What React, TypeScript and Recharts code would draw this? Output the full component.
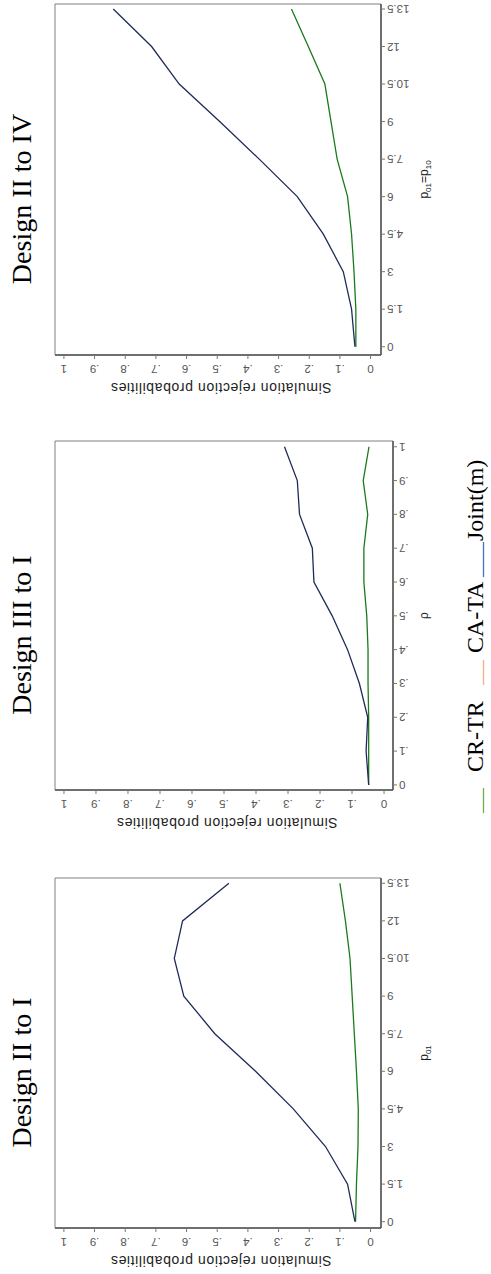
import React from "react";
import { LineChart, Line, XAxis, YAxis, ReferenceArea, Label } from "recharts";

// x levels and tick values
const p01Levels = [0, 1.5, 3, 4.5, 6, 7.5, 9, 10.5, 12, 13.5];
const rhoLevels = [0, 0.1, 0.2, 0.3, 0.4, 0.5, 0.6, 0.7, 0.8, 0.9, 1];
const probTicks = [0, 0.1, 0.2, 0.3, 0.4, 0.5, 0.6, 0.7, 0.8, 0.9, 1];

// Design II to I
const d1CrTr = [0.049, 0.046, 0.041, 0.04, 0.046, 0.053, 0.06, 0.067, 0.082, 0.1];
const d1Joint = [0.051, 0.075, 0.147, 0.252, 0.375, 0.508, 0.609, 0.64, 0.613, 0.462];

// Design III to I
const d2CrTr = [0.048, 0.048, 0.048, 0.05, 0.05, 0.054, 0.063, 0.063, 0.051, 0.065, 0.047];
const d2Joint = [0.048, 0.056, 0.051, 0.077, 0.114, 0.162, 0.219, 0.224, 0.264, 0.271, 0.311];

// Design II to IV
const d3CrTr = [0.048, 0.048, 0.054, 0.062, 0.075, 0.109, 0.129, 0.149, 0.203, 0.258];
const d3Joint = [0.051, 0.062, 0.089, 0.154, 0.239, 0.363, 0.492, 0.624, 0.714, 0.839];

const legendItems = [
  { name: "CR-TR", color: "#70AD47" },
  { name: "CA-TA", color: "#F4B183" },
  { name: "Joint(m)", color: "#4472C4" },
];

const NAVY = "#1f2b59";
const GREEN = "#1b7a1b";
const TICK_GRAY = "#555";
const SANS = "'Liberation Sans', Arial, sans-serif";
const SERIF = "'Liberation Serif', 'Times New Roman', serif";

// the page is drawn landscape, then turned a quarter to fit the portrait window
const W = 1274;
const H = 491;
const AXIS_W = 40;
const AXIS_H = 40;

function rows(xs: number[], crtr: number[], joint: number[]) {
  return xs.map((x, i) => ({ x, crtr: crtr[i], joint: joint[i] }));
}

const decimalLabel = (v: number) =>
  v === 0 ? "0" : v === 1 ? "1" : "." + Math.round(v * 10);

function XTick({ x, y, payload, fmt }: any) {
  return (
    <text
      transform={`translate(${x + 4},${y}) rotate(-90)`}
      textAnchor="end"
      fontSize={11.5}
      fontFamily={SANS}
      fill={TICK_GRAY}
    >
      {fmt(payload.value)}
    </text>
  );
}

function YTick({ x, y, payload }: any) {
  return (
    <text
      transform={`translate(${x},${y}) rotate(-90)`}
      textAnchor="middle"
      fontSize={11.5}
      fontFamily={SANS}
      fill={TICK_GRAY}
    >
      {decimalLabel(payload.value)}
    </text>
  );
}

function XTitle({ kind }: { kind: string }) {
  if (kind === "rho") return <tspan>ρ</tspan>;
  const sub = (t: string) => (
    <tspan fontSize={8} dy={3}>
      {t}
    </tspan>
  );
  if (kind === "p01") {
    return (
      <>
        <tspan>p</tspan>
        {sub("01")}
      </>
    );
  }
  return (
    <>
      <tspan>p</tspan>
      {sub("01")}
      <tspan dy={-3}>=p</tspan>
      {sub("10")}
    </>
  );
}

const panels = [
  {
    title: "Design II to I",
    data: rows(p01Levels, d1CrTr, d1Joint),
    xTicks: p01Levels,
    xFmt: (v: number) => String(v),
    xDomain: [-0.25, 13.71],
    yDomain: [-0.034, 1.029],
    frame: { l: 46, r: 396, b: 381 },
    xTitle: "p01",
  },
  {
    title: "Design III to I",
    data: rows(rhoLevels, d2CrTr, d2Joint),
    xTicks: rhoLevels,
    xFmt: decimalLabel,
    xDomain: [-0.015, 1.017],
    yDomain: [-0.028, 1.028],
    frame: { l: 484, r: 833, b: 393 },
    xTitle: "rho",
  },
  {
    title: "Design II to IV",
    data: rows(p01Levels, d3CrTr, d3Joint),
    xTicks: p01Levels,
    xFmt: (v: number) => String(v),
    xDomain: [-0.33, 13.7],
    yDomain: [-0.034, 1.029],
    frame: { l: 919, r: 1270, b: 381 },
    xTitle: "p01p10",
  },
];

function Panel({ p }: { p: (typeof panels)[number] }) {
  const left = p.frame.l - 46;
  const width = p.frame.r - left + 4;
  return (
    <div style={{ position: "absolute", left, top: 0 }}>
      <LineChart
        width={width}
        height={H}
        data={p.data}
        margin={{ top: 55, left: 46 - AXIS_W, right: 4, bottom: H - p.frame.b - AXIS_H }}
      >
        <ReferenceArea
          x1={p.xDomain[0]}
          x2={p.xDomain[1]}
          y1={p.yDomain[0]}
          y2={p.yDomain[1]}
          fill="none"
          stroke="#808080"
          strokeWidth={1}
          ifOverflow="visible"
        />
        <XAxis
          type="number"
          dataKey="x"
          domain={p.xDomain}
          ticks={p.xTicks}
          allowDataOverflow
          height={AXIS_H}
          tickSize={4}
          tickMargin={2}
          axisLine={{ stroke: "#555", strokeWidth: 1.5 }}
          tickLine={{ stroke: "#777" }}
          tick={<XTick fmt={p.xFmt} />}
          interval={0}
        >
          <Label
            content={({ viewBox }: any) => (
              <text
                x={viewBox.x + viewBox.width / 2}
                y={428}
                textAnchor="middle"
                fontSize={12}
                fontFamily={SANS}
                fill="#222"
              >
                <XTitle kind={p.xTitle} />
              </text>
            )}
          />
        </XAxis>
        <YAxis
          type="number"
          domain={p.yDomain}
          ticks={probTicks}
          allowDataOverflow
          width={AXIS_W}
          tickSize={4}
          tickMargin={6}
          axisLine={{ stroke: "#555", strokeWidth: 1.5 }}
          tickLine={{ stroke: "#777" }}
          tick={<YTick />}
          interval={0}
        >
          <Label
            content={({ viewBox }: any) => {
              const cx = viewBox.x + 12;
              const cy = viewBox.y + viewBox.height / 2 + 3;
              return (
                <text
                  transform={`translate(${cx},${cy}) rotate(-90)`}
                  textAnchor="middle"
                  fontSize={14}
                  letterSpacing={0.6}
                  fontFamily={SANS}
                  fill="#222"
                >
                  Simulation rejection probabilities
                </text>
              );
            }}
          />
        </YAxis>
        <Line
          dataKey="crtr"
          name="CR-TR"
          stroke={GREEN}
          strokeWidth={1.3}
          dot={false}
          isAnimationActive={false}
        />
        <Line
          dataKey="joint"
          name="Joint(m)"
          stroke={NAVY}
          strokeWidth={1.3}
          dot={false}
          isAnimationActive={false}
        />
      </LineChart>
    </div>
  );
}

// legend spots (line start, line end, text start) along the bottom strip
const legendSlots = [
  [461, 486, 502],
  [589, 614, 621],
  [697, 732, 733],
];

export default function App() {
  return (
    <div
      style={{
        position: "absolute",
        left: 0,
        top: 0,
        width: H,
        height: W,
        overflow: "hidden",
        background: "#fff",
      }}
    >
      <div
        style={{
          position: "absolute",
          left: 0,
          top: 0,
          width: W,
          height: H,
          transformOrigin: "0 0",
          transform: `translate(0px, ${W}px) rotate(-90deg)`,
        }}
      >
        {panels.map((p) => (
          <Panel key={p.title} p={p} />
        ))}
        <svg
          width={W}
          height={H}
          style={{ position: "absolute", left: 0, top: 0, pointerEvents: "none" }}
        >
          {panels.map((p) => (
            <text
              key={p.title}
              x={(p.frame.l - 39 + p.frame.r) / 2}
              y={31}
              textAnchor="middle"
              fontSize={28}
              fontFamily={SERIF}
              fill="#000"
            >
              {p.title}
            </text>
          ))}
          {legendItems.map((item, i) => {
            const [x0, x1, tx] = legendSlots[i];
            return (
              <g key={item.name}>
                <line x1={x0} x2={x1} y1={483.5} y2={483.5} stroke={item.color} strokeWidth={1.3} />
                <text x={tx} y={483} fontSize={24} fontFamily={SERIF} fill="#000">
                  {item.name}
                </text>
              </g>
            );
          })}
        </svg>
      </div>
    </div>
  );
}
